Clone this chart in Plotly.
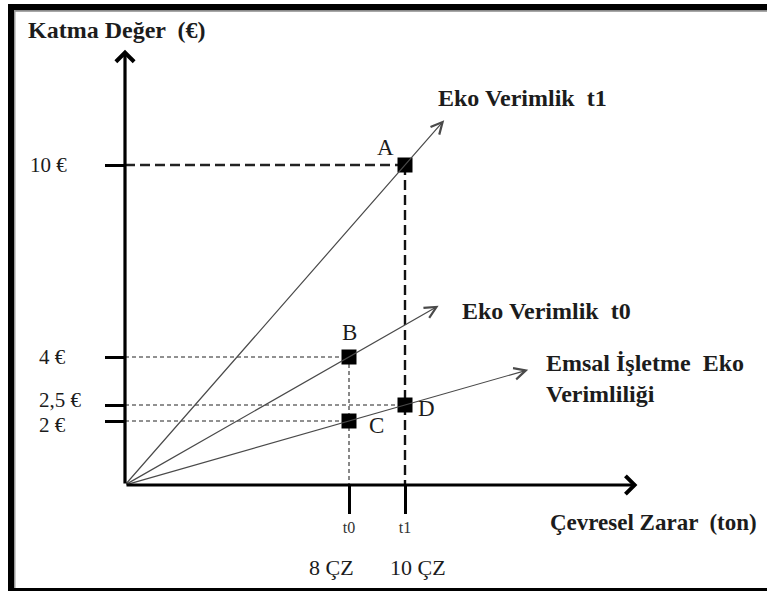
import plotly.graph_objects as go

# ---------------- data ----------------
point_names = ["A", "B", "C", "D"]
point_x = [10, 8, 8, 10]          # Çevresel Zarar (ton)
point_y = [10, 4, 2, 2.5]         # Katma Değer (€)

x_tick_vals = [8, 10]
x_tick_text = ["t0", "t1"]
x_sub_text = ["8 ÇZ", "10 ÇZ"]

y_tick_vals = [10, 4, 2.5, 2]
y_tick_text = ["10 €", "4 €", "2,5 €", "2 €"]

ray_labels = ["Eko Verimlik  t1", "Eko Verimlik  t0", "Emsal İşletme  Eko<br>Verimliliği"]
ray_through = ["A", "B", "C"]      # each ray starts at the origin and passes this point
ray_end_x = [11.4, 11.2, 14.4]     # how far each ray is drawn (ton)

x_axis_end = 18.3
y_axis_end = 13.6

# ---------------- layout constants ----------------
W, H = 767, 591
ORIGIN_PX = (125, 485)
KX, KY = 28.0, 32.0   # px per unit
SERIF = "Liberation Serif, Times New Roman, serif"
INK = "#1c1c1c"

x_range = [-ORIGIN_PX[0] / KX, (W - ORIGIN_PX[0]) / KX]
y_range = [-(H - ORIGIN_PX[1]) / KY, ORIGIN_PX[1] / KY]

fig = go.Figure()

# guide lines (dashed)
guide_style = {"A": dict(width=2.4, dash="10px,5px"),
               "B": dict(width=1, dash="4px,3px"),
               "C": dict(width=1, dash="4px,3px"),
               "D": dict(width=1, dash="4px,3px")}
for n, x, y in zip(point_names, point_x, point_y):
    st = guide_style[n]
    fig.add_trace(go.Scatter(x=[0, x], y=[y, y], mode="lines",
                             line=dict(color="#222", width=st["width"], dash=st["dash"]),
                             hoverinfo="skip", showlegend=False))
for n, x, y in zip(point_names, point_x, point_y):
    if n in ("C", "D"):
        continue   # their verticals are covered by B's and A's
    st = guide_style[n]
    fig.add_trace(go.Scatter(x=[x, x], y=[y, 0], mode="lines",
                             line=dict(color="#111", width=st["width"], dash=st["dash"]),
                             hoverinfo="skip", showlegend=False))

# points
fig.add_trace(go.Scatter(x=point_x, y=point_y, mode="markers",
                         marker=dict(symbol="square", size=15, color="black"),
                         hoverinfo="skip", showlegend=False, cliponaxis=False))

annotations = []

# rays (efficiency lines) with open arrowheads + their labels
ray_label_shift = [(-8, 22), (21, -5), (16, 22)]
for lbl, thr, xe, (sx, sy) in zip(ray_labels, ray_through, ray_end_x, ray_label_shift):
    i = point_names.index(thr)
    slope = point_y[i] / point_x[i]
    ye = slope * xe
    annotations.append(dict(x=xe, y=ye, ax=0, ay=0, xref="x", yref="y",
                            axref="x", ayref="y", text="", showarrow=True,
                            arrowhead=5, arrowsize=1.9, arrowwidth=1.2,
                            arrowcolor="#4a4a4a"))
    annotations.append(dict(x=xe, y=ye, xref="x", yref="y", text=lbl, showarrow=False,
                            xshift=sx, yshift=sy, xanchor="left",
                            yanchor="top" if "<br>" in lbl else "middle", align="left",
                            font=dict(family=SERIF, size=24, color=INK, weight="bold")))

# axes with bold arrowheads
annotations.append(dict(x=x_axis_end, y=0, ax=0, ay=0, xref="x", yref="y", axref="x", ayref="y",
                        text="", showarrow=True, arrowhead=4, arrowsize=1.1, arrowwidth=3.2,
                        arrowcolor="black"))
annotations.append(dict(x=0, y=y_axis_end, ax=0, ay=0, xref="x", yref="y", axref="x", ayref="y",
                        text="", showarrow=True, arrowhead=4, arrowsize=1.1, arrowwidth=3.2,
                        arrowcolor="black"))

# point labels
lbl_shift = {"A": (-20, 18), "B": (0, 25), "C": (27, -4), "D": (21, -3)}
for n, x, y in zip(point_names, point_x, point_y):
    dx, dy = lbl_shift[n]
    annotations.append(dict(x=x, y=y, xref="x", yref="y", text=n, showarrow=False,
                            xshift=dx, yshift=dy,
                            font=dict(family=SERIF, size=23, color=INK)))

# y value labels
y_lbl_shift = {"10 €": 0, "4 €": 0, "2,5 €": 5, "2 €": -4}
y_lbl_x = {"10 €": 28, "4 €": 37, "2,5 €": 37, "2 €": 37}
for v, t in zip(y_tick_vals, y_tick_text):
    annotations.append(dict(x=y_lbl_x[t] / W, y=v, xref="paper", yref="y", text=t,
                            showarrow=False, xanchor="left", yanchor="middle",
                            yshift=y_lbl_shift[t],
                            font=dict(family=SERIF, size=21, color=INK)))

# x sub labels
x_sub_shift = {"8 ÇZ": -18, "10 ÇZ": 13}
for v, t in zip(x_tick_vals, x_sub_text):
    annotations.append(dict(x=v, y=0, xref="x", yref="y", text=t, showarrow=False,
                            yshift=-82, xshift=x_sub_shift[t],
                            font=dict(family=SERIF, size=22, color=INK)))

# axis titles
annotations.append(dict(x=26 / W, y=1 - 30 / H, xref="paper", yref="paper",
                        text="Katma Değer  (€)", showarrow=False, xanchor="left",
                        yanchor="middle",
                        font=dict(family=SERIF, size=24, color=INK, weight="bold")))
annotations.append(dict(x=548 / W, y=1 - 522 / H, xref="paper", yref="paper",
                        text="Çevresel Zarar  (ton)", showarrow=False, xanchor="left",
                        yanchor="middle",
                        font=dict(family=SERIF, size=23, color=INK, weight="bold")))

# frame (left, top and bottom edges only)
shapes = [
    dict(type="rect", xref="paper", yref="paper", x0=8 / W, x1=1, y0=1 - 10 / H, y1=1 - 4 / H,
         fillcolor="black", line=dict(width=0)),
    dict(type="rect", xref="paper", yref="paper", x0=14 / W, x1=1, y0=1 - 11.7 / H, y1=1 - 10 / H,
         fillcolor="#8a8a8a", line=dict(width=0)),
    dict(type="rect", xref="paper", yref="paper", x0=8 / W, x1=14 / W, y0=0, y1=1 - 4 / H,
         fillcolor="black", line=dict(width=0)),
    dict(type="rect", xref="paper", yref="paper", x0=14 / W, x1=15.5 / W, y0=0, y1=1 - 10 / H,
         fillcolor="#9a9a9a", line=dict(width=0)),
    dict(type="rect", xref="paper", yref="paper", x0=8 / W, x1=1, y0=0, y1=3 / H,
         fillcolor="black", line=dict(width=0)),
]

fig.update_layout(
    width=W, height=H, margin=dict(l=0, r=0, t=0, b=0),
    paper_bgcolor="white", plot_bgcolor="white",
    showlegend=False, annotations=annotations, shapes=shapes,
    xaxis=dict(range=x_range, domain=[0, 1], anchor="free", position=(H - ORIGIN_PX[1]) / H,
               showgrid=False, zeroline=False, showline=False,
               ticks="outside", ticklen=28, tickwidth=3, tickcolor="black",
               tickvals=x_tick_vals, ticktext=x_tick_text,
               tickfont=dict(family=SERIF, size=16, color="#333")),
    yaxis=dict(range=y_range, domain=[0, 1], anchor="free", position=ORIGIN_PX[0] / W,
               showgrid=False, zeroline=False, showline=False,
               ticks="outside", ticklen=20, tickwidth=3, tickcolor="black",
               tickvals=y_tick_vals, showticklabels=False),
)

fig.write_html(
    "out.html", config={"displayModeBar": False},
    post_script=("document.documentElement.style.background='white';"
                 "document.body.style.background='white';"
                 "document.body.style.margin='0';"
                 "document.body.style.overflow='hidden';"
                 "document.documentElement.style.overflow='hidden';"))
